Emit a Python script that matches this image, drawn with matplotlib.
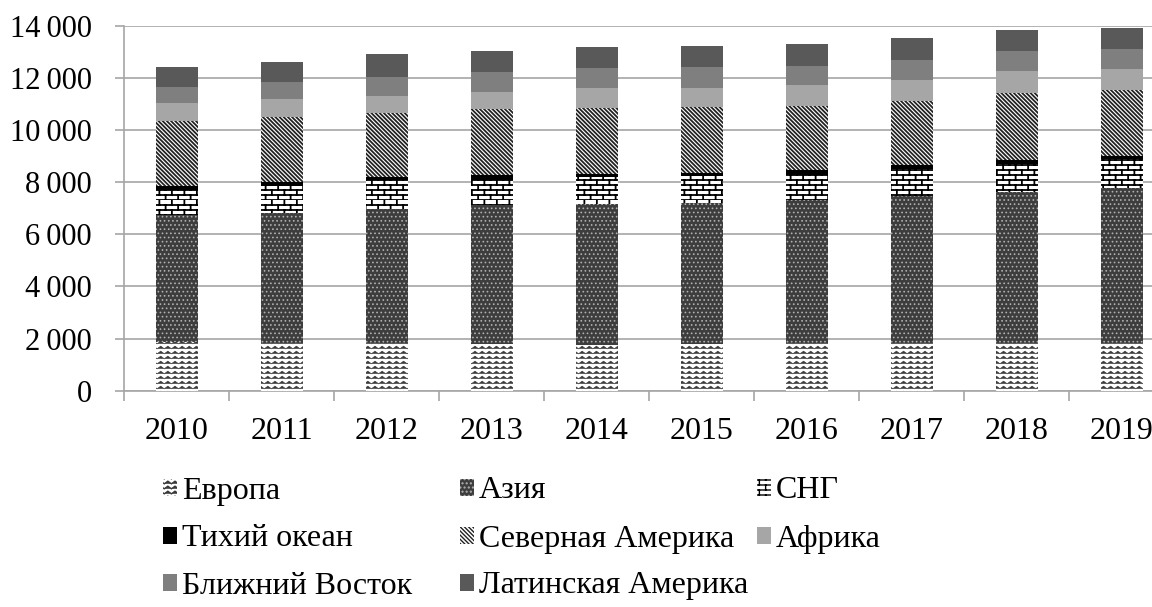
import warnings
import numpy as np
import matplotlib
matplotlib.use("Agg")
import matplotlib.pyplot as plt
import matplotlib.hatch as mhatch
from matplotlib.path import Path
from matplotlib.patches import Patch

warnings.filterwarnings("ignore")

# ---------------- data ----------------
years = ["2010", "2011", "2012", "2013", "2014", "2015", "2016", "2017", "2018", "2019"]
europe = [1880, 1820, 1820, 1790, 1740, 1790, 1820, 1830, 1820, 1820]
asia = [4860, 5010, 5140, 5330, 5430, 5420, 5500, 5650, 5810, 5940]
cis = [960, 1030, 1120, 960, 1010, 1020, 960, 1010, 1050, 1110]
pacific = [160, 130, 130, 190, 140, 130, 170, 150, 165, 125]
north_america = [2485, 2490, 2430, 2520, 2520, 2510, 2480, 2480, 2580, 2530]
africa = [680, 690, 680, 675, 770, 730, 780, 780, 820, 805]
middle_east = [635, 675, 730, 745, 750, 805, 755, 780, 790, 795]
latin_america = [770, 780, 860, 830, 820, 830, 830, 830, 795, 790]

series_names = ["Европа", "Азия", "СНГ", "Тихий океан", "Северная Америка",
                "Африка", "Ближний Восток", "Латинская Америка"]
series_values = [europe, asia, cis, pacific, north_america, africa, middle_east, latin_america]

ytick_values = [0, 2000, 4000, 6000, 8000, 10000, 12000, 14000]
ytick_labels = ["0", "2\u2009000", "4\u2009000", "6\u2009000", "8\u2009000",
                "10\u2009000", "12\u2009000", "14\u2009000"]


# ---------------- custom hatch patterns ----------------
class WaveHatch(mhatch.HatchPatternBase):
    """Zig-zag wave rows, triggered by '~'."""
    def __init__(self, hatch, density):
        self.num_rows = int(hatch.count('~') * density * 3.4)
        self.periods = 14
        self.pts = 2 * self.periods + 1
        self.num_vertices = self.num_rows * self.pts

    def set_vertices_and_codes(self, vertices, codes):
        ys = (np.arange(self.num_rows) + 0.5) / self.num_rows
        amp = 0.26 / self.num_rows
        xs = np.linspace(0, 1, self.pts)
        offs = np.where(np.arange(self.pts) % 2 == 0, -amp, amp)
        for i, y in enumerate(ys):
            sl = slice(i * self.pts, (i + 1) * self.pts)
            vertices[sl, 0] = xs
            vertices[sl, 1] = y + offs
            codes[sl] = Path.LINETO
            codes[i * self.pts] = Path.MOVETO

    get_vertices_and_codes = set_vertices_and_codes


class BrickHatch(mhatch.HatchPatternBase):
    """Horizontal brick wall, triggered by 'b'."""
    def __init__(self, hatch, density):
        n = hatch.count('b')
        self.rows = int(n * density * 3.4) if n else 0
        if self.rows % 2:
            self.rows += 1
        self.cols = 8
        self.num_vertices = (self.rows * 2 + self.rows * self.cols * 2) if n else 0

    def set_vertices_and_codes(self, vertices, codes):
        k = 0
        h = 1.0 / self.rows
        for r in range(self.rows):
            y = r * h
            vertices[k] = (0, y); codes[k] = Path.MOVETO; k += 1
            vertices[k] = (1, y); codes[k] = Path.LINETO; k += 1
        for r in range(self.rows):
            y0 = r * h
            shift = 0.5 if r % 2 else 0.0
            for c in range(self.cols):
                x = (c + shift + 0.25) / self.cols
                vertices[k] = (x, y0); codes[k] = Path.MOVETO; k += 1
                vertices[k] = (x, y0 + h); codes[k] = Path.LINETO; k += 1

    get_vertices_and_codes = set_vertices_and_codes


mhatch._hatch_types.append(WaveHatch)
mhatch._hatch_types.append(BrickHatch)

# ---------------- styles ----------------
styles = [
    dict(facecolor="white", edgecolor="#3a3a3a", hatch="~", hlw=0.5),
    dict(facecolor="#3d3d3d", edgecolor="#b0b0b0", hatch="....", hlw=0.7),
    dict(facecolor="white", edgecolor="black", hatch="b", hlw=1.3),
    dict(facecolor="black", edgecolor="black", hatch=None, hlw=1.0),
    dict(facecolor="white", edgecolor="#222222", hatch="\\" * 8, hlw=1.3),
    dict(facecolor="#a6a6a6", edgecolor="#a6a6a6", hatch=None, hlw=1.0),
    dict(facecolor="#7f7f7f", edgecolor="#7f7f7f", hatch=None, hlw=1.0),
    dict(facecolor="#595959", edgecolor="#595959", hatch=None, hlw=1.0),
]

plt.rcParams["font.family"] = ["Liberation Serif", "DejaVu Serif"]
FS = 23
FS_Y = 22

W, H = 1152, 607
fig = plt.figure(figsize=(W / 100, H / 100), dpi=100)
ax = fig.add_axes([124 / W, (H - 390.7) / H, 1050 / W, 365 / H])

x = np.arange(len(years))
bottom = np.zeros(len(years))
handles = []
for name, vals, st in zip(series_names, series_values, styles):
    with plt.rc_context({"hatch.linewidth": st["hlw"]}):
        bars = ax.bar(x, vals, width=0.4, bottom=bottom, color=st["facecolor"],
                      edgecolor=st["edgecolor"], hatch=st["hatch"], linewidth=0,
                      zorder=3)
        for b in bars:
            if hasattr(b, "set_hatch_linewidth"):
                b.set_hatch_linewidth(st["hlw"])
        hp = Patch(facecolor=st["facecolor"], edgecolor=st["edgecolor"],
                   hatch=st["hatch"], linewidth=0, label=name)
        if hasattr(hp, "set_hatch_linewidth"):
            hp.set_hatch_linewidth(st["hlw"])
        handles.append(hp)
    bottom = bottom + np.array(vals)

ax.set_xlim(-0.5, len(years) - 0.5)
ax.set_ylim(0, 14000)

grid_c = "#a6a6a6"
ax.set_yticks(ytick_values)
ax.set_yticklabels(ytick_labels, fontsize=FS_Y)
ax.yaxis.grid(True, color=grid_c, linewidth=1.2, zorder=0)
ax.tick_params(axis="y", length=6.5, width=1.2, color=grid_c, pad=16.5)

ax.set_xticks(x)
ax.set_xticklabels(years, fontsize=FS)
ax.set_xticks(np.arange(len(years) + 1) - 0.5, minor=True)
ax.tick_params(axis="x", which="major", length=0, pad=19)
ax.tick_params(axis="x", which="minor", length=7, width=1.2, color=grid_c)

for s in ["top", "right"]:
    ax.spines[s].set_visible(False)
for s in ["left", "bottom"]:
    ax.spines[s].set_color(grid_c)
    ax.spines[s].set_linewidth(1.2)
ax.set_axisbelow(True)

# ---------------- legend (3 columns, row-major like the original) ----------------
col_x = [163, 460, 757]
row_y = [491, 539, 586]
for i, h in enumerate(handles):
    r, c = divmod(i, 3)
    fig.legend(handles=[h], loc="center left",
               bbox_to_anchor=(col_x[c] / W, 1 - row_y[r] / H),
               frameon=False, fontsize=FS, handlelength=0.45, handleheight=0.45,
               handletextpad=0.15, borderpad=0, borderaxespad=0)

fig.savefig("out.png", dpi=100)
